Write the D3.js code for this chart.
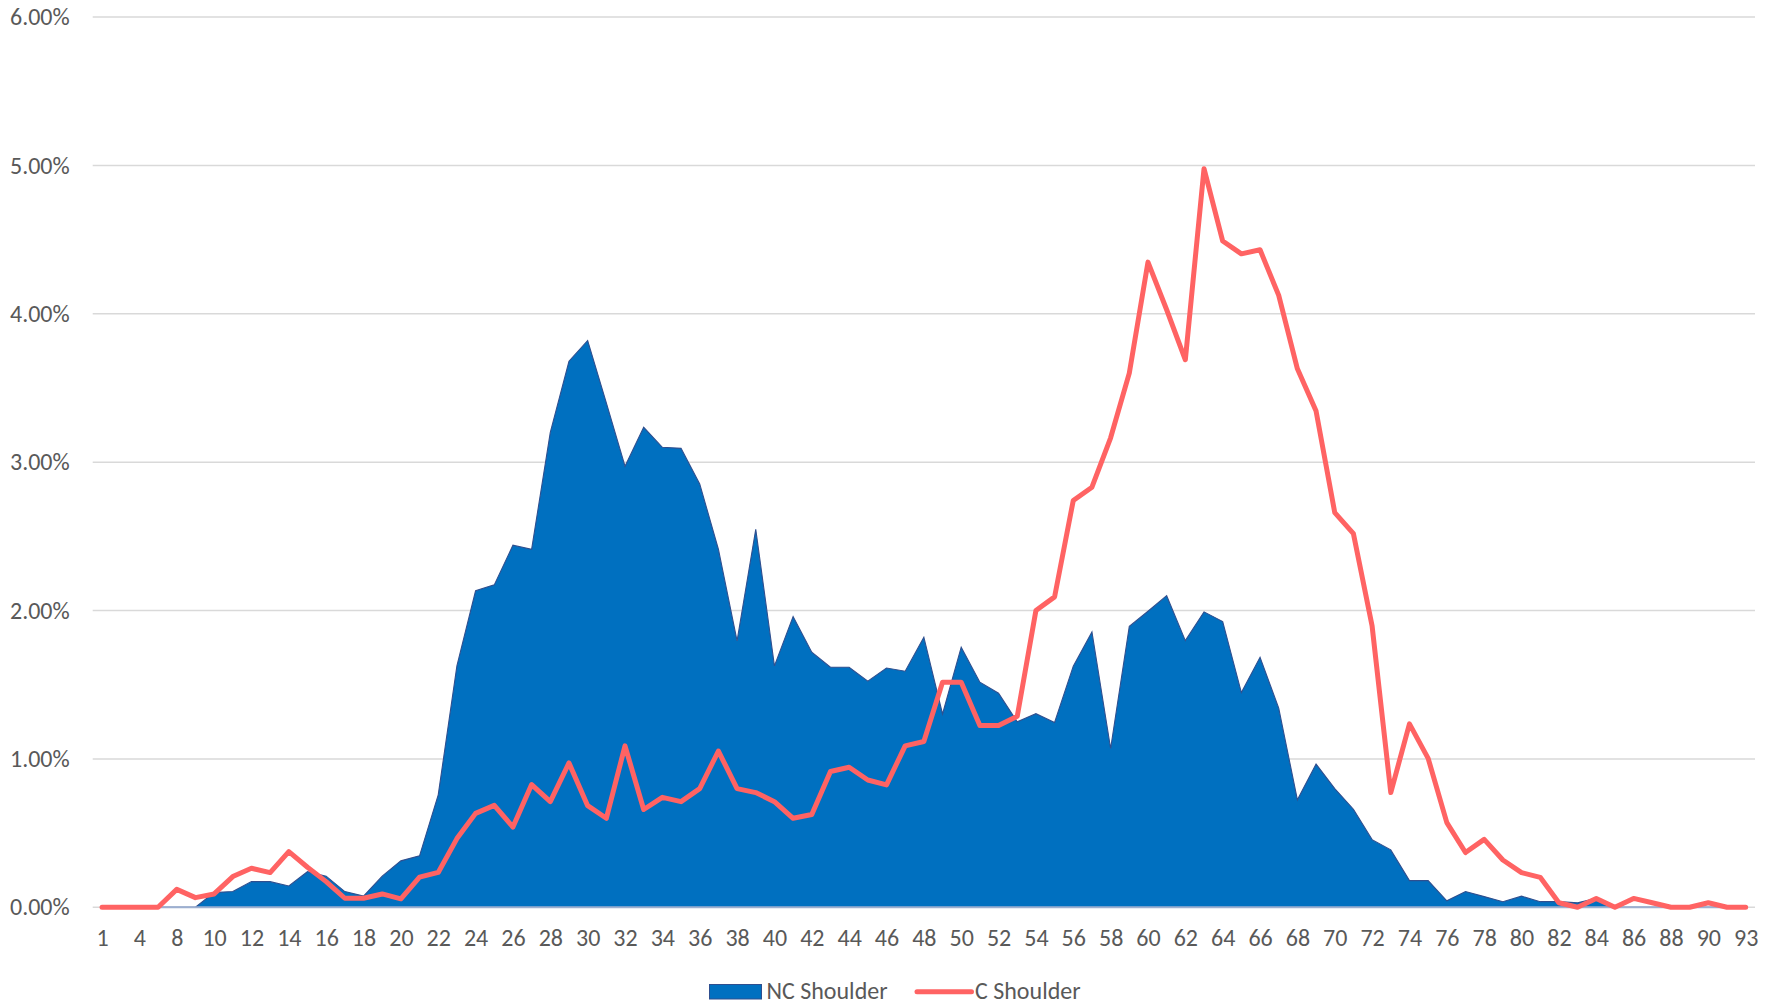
<!DOCTYPE html>
<html>
<head>
<meta charset="utf-8">
<script src="https://cdn.jsdelivr.net/npm/d3@7"></script>
<style>
  html, body { margin: 0; padding: 0; background: #fff; }
  svg { display: block; }
  text { font-family: Calibri, Carlito, "Open Sans", sans-serif; fill: #595959; }
</style>
</head>
<body>
<svg id="chart" width="1781" height="1004"></svg>
<script>
// Category axis values (integer buckets; a few buckets are absent from the series)
const categories = [1, 3, 4, 6, 8, 9, 10, 11, 12, 13, 14, 15, 16, 17, 18, 19, 20, 21, 22, 23,
  24, 25, 26, 27, 28, 29, 30, 31, 32, 33, 34, 35, 36, 37, 38, 39, 40, 41, 42, 43,
  44, 45, 46, 47, 48, 49, 50, 51, 52, 53, 54, 55, 56, 57, 58, 59, 60, 61, 62, 63,
  64, 65, 66, 67, 68, 69, 70, 71, 72, 73, 74, 75, 76, 77, 78, 79, 80, 81, 82, 83,
  84, 85, 86, 87, 88, 89, 90, 91, 93];

// Share of total (%) per bucket
const ncShoulder = [0, 0, 0, 0, 0, 0, 0.099, 0.106, 0.173, 0.173, 0.144, 0.24, 0.21, 0.106, 0.076, 0.21, 0.313, 0.347, 0.758, 1.627,
  2.133, 2.173, 2.44, 2.413, 3.2, 3.68, 3.82, 3.4, 2.973, 3.235, 3.1, 3.093, 2.853, 2.413, 1.795, 2.547, 1.627, 1.96, 1.719, 1.618,
  1.618, 1.524, 1.613, 1.591, 1.82, 1.303, 1.753, 1.517, 1.443, 1.25, 1.305, 1.246, 1.625, 1.856, 1.07, 1.893, 1.995, 2.1, 1.797, 1.991,
  1.926, 1.447, 1.685, 1.342, 0.724, 0.965, 0.8, 0.661, 0.456, 0.387, 0.18, 0.18, 0.044, 0.106, 0.072, 0.038, 0.075, 0.038, 0.038, 0.03,
  0.06, 0, 0, 0, 0, 0, 0, 0, 0];

const cShoulder = [0, 0, 0, 0, 0.121, 0.065, 0.09, 0.207, 0.263, 0.234, 0.375, 0.27, 0.173, 0.061, 0.061, 0.09, 0.057, 0.203, 0.235, 0.463,
  0.633, 0.687, 0.541, 0.827, 0.712, 0.973, 0.685, 0.6, 1.088, 0.659, 0.741, 0.712, 0.8, 1.053, 0.8, 0.773, 0.712, 0.6, 0.625, 0.915,
  0.944, 0.858, 0.825, 1.088, 1.117, 1.517, 1.517, 1.225, 1.225, 1.287, 2.0, 2.092, 2.742, 2.831, 3.164, 3.6, 4.348, 4.027, 3.69, 4.978,
  4.49, 4.404, 4.431, 4.124, 3.629, 3.344, 2.66, 2.518, 1.895, 0.773, 1.236, 1.004, 0.571, 0.369, 0.458, 0.319, 0.234, 0.202, 0.031, 0,
  0.06, 0, 0.06, 0.031, 0, 0, 0.031, 0, 0];

const yTicks = [0, 0.01, 0.02, 0.03, 0.04, 0.05, 0.06];
const seriesNames = ["NC Shoulder", "C Shoulder"];

const svg = d3.select("#chart");
const plot = { left: 92.7, right: 1755, top: 17, bottom: 907.3 };
const fontSize = "24px";

const x = d3.scalePoint().domain(categories).range([plot.left, plot.right]).padding(0.5);
const y = d3.scaleLinear().domain([0, 0.06]).range([plot.bottom, plot.top]);

// Horizontal gridlines
svg.append("g").selectAll("line").data(yTicks).join("line")
  .attr("x1", plot.left).attr("x2", plot.right)
  .attr("y1", d => y(d)).attr("y2", d => y(d))
  .attr("stroke", "#D9D9D9").attr("stroke-width", 1.5);

// Y axis labels
const yAxis = svg.append("g").attr("transform", `translate(${plot.left},0)`)
  .call(d3.axisLeft(y).tickValues(yTicks).tickFormat(d3.format(".2%")).tickSize(0).tickPadding(23));
yAxis.select(".domain").remove();
yAxis.selectAll("text").style("font-size", fontSize).attr("fill", "#595959");

// X axis labels, every other category
const xAxis = svg.append("g").attr("transform", `translate(0,${plot.bottom})`)
  .call(d3.axisBottom(x).tickValues(categories.filter((d, i) => i % 2 === 0)).tickSize(0).tickPadding(21.5));
xAxis.select(".domain").remove();
xAxis.selectAll("text").style("font-size", fontSize).attr("fill", "#595959");

const ncData = categories.map((c, i) => ({ c, v: ncShoulder[i] / 100 }));
const cData = categories.map((c, i) => ({ c, v: cShoulder[i] / 100 }));

// NC Shoulder area
svg.append("path").datum(ncData)
  .attr("fill", "#0070C0")
  .attr("d", d3.area().x(d => x(d.c)).y0(y(0)).y1(d => y(d.v)));

// Area outline along the top
svg.append("path").datum(ncData)
  .attr("fill", "none").attr("stroke", "#2F4F8F").attr("stroke-width", 1.1)
  .attr("d", d3.line().x(d => x(d.c)).y(d => y(d.v)));

// Area outline along the base
svg.append("line")
  .attr("x1", x(categories[0])).attr("x2", x(categories[categories.length - 1]))
  .attr("y1", y(0)).attr("y2", y(0))
  .attr("stroke", "#9DAFD0").attr("stroke-width", 2);

// C Shoulder line
svg.append("path").datum(cData)
  .attr("fill", "none").attr("stroke", "#FF6363").attr("stroke-width", 5)
  .attr("stroke-linejoin", "round").attr("stroke-linecap", "round")
  .attr("d", d3.line().x(d => x(d.c)).y(d => y(d.v)));

// Legend
const legend = svg.append("g");
legend.append("rect").attr("x", 709.5).attr("y", 984.5).attr("width", 52).attr("height", 14.5)
  .attr("fill", "#0070C0").attr("stroke", "#2F4F8F").attr("stroke-width", 1);
legend.append("text").attr("x", 766.5).attr("y", 998.5).style("font-size", fontSize).text(seriesNames[0]);
legend.append("line").attr("x1", 917).attr("x2", 971.5).attr("y1", 991.7).attr("y2", 991.7)
  .attr("stroke", "#FF6363").attr("stroke-width", 5).attr("stroke-linecap", "round");
legend.append("text").attr("x", 975).attr("y", 998.5).style("font-size", fontSize).text(seriesNames[1]);
</script>
</body>
</html>
